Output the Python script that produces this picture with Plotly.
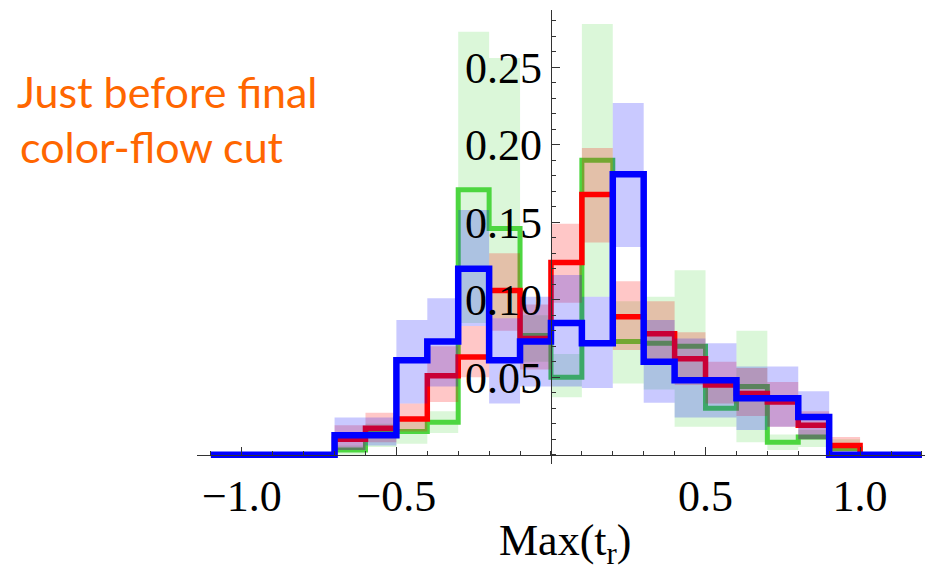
import plotly.graph_objects as go

# Bin edges of the Max(t_r) histograms (width 0.1)
edges = [-1.1, -1.0, -0.9, -0.8, -0.7, -0.6, -0.5, -0.4, -0.3, -0.2, -0.1, 0.0,
         0.1, 0.2, 0.3, 0.4, 0.5, 0.6, 0.7, 0.8, 0.9, 1.0, 1.1, 1.2]

# Normalised bin contents for the three samples
green = [0, 0, 0, 0, 0.003, 0.014, 0.015, 0.021, 0.171, 0.146, 0.077, 0.050,
         0.190, 0.073, 0.072, 0.070, 0.030, 0.044, 0.008, 0.0115, 0.004, 0, 0]
red = [0, 0, 0, 0, 0.010, 0.017, 0.023, 0.051, 0.063, 0.106, 0.075, 0.124,
       0.168, 0.089, 0.078, 0.062, 0.045, 0.0395, 0.034, 0.019, 0.006, 0, 0]
blue = [0, 0, 0, 0, 0.0126, 0.0126, 0.061, 0.073, 0.120, 0.061, 0.073, 0.085,
        0.072, 0.181, 0.060, 0.048, 0.048, 0.0365, 0.0365, 0.0244, 0, 0, 0]

# Uncertainty bands (lower / upper edge per bin, None = no band)
N = None
green_lo = [N, N, N, N, 0.0, 0.005, 0.007, 0.014, 0.085, 0.088, 0.060, 0.037,
            0.102, 0.046, 0.042, 0.018, 0.018, 0.008, 0.003, 0.005, 0.0, N, N]
green_hi = [N, N, N, N, 0.006, 0.020, 0.022, 0.028, 0.273, 0.256, 0.090, 0.065,
            0.278, 0.099, 0.102, 0.119, 0.044, 0.080, 0.013, 0.016, 0.010, N, N]
red_lo = [N, N, N, N, 0.003, 0.008, 0.015, 0.034, 0.050, 0.080, 0.055, 0.098,
          0.137, 0.0675, 0.058, 0.045, 0.033, 0.025, 0.018, 0.010, 0.002, N, N]
red_hi = [N, N, N, N, 0.019, 0.027, 0.033, 0.070, 0.083, 0.130, 0.097, 0.149,
          0.198, 0.112, 0.099, 0.079, 0.060, 0.056, 0.047, 0.028, 0.0115, N, N]
blue_lo = [N, N, N, N, 0.003, 0.006, 0.033, 0.044, 0.083, 0.033, 0.044, 0.044,
           0.043, 0.134, 0.0335, 0.024, 0.024, 0.016, 0.018, 0.010, N, N, N]
blue_hi = [N, N, N, N, 0.024, 0.024, 0.087, 0.101, 0.158, 0.088, 0.102, 0.116,
           0.102, 0.227, 0.087, 0.075, 0.072, 0.057, 0.057, 0.041, N, N, N]

x_ticks = [-1.0, -0.5, 0.5, 1.0]
x_ticktext = ["\u22121.0", "\u22120.5", "0.5", "1.0"]
y_ticks = [0.05, 0.10, 0.15, 0.20, 0.25]
y_ticktext = ["0.05", "0.10", "0.15", "0.20", "0.25"]

X_RANGE = [-1.145, 1.21]
Y_RANGE = [-0.006, 0.287]

series = [
    (green, green_lo, green_hi, "rgb(77,214,64)", "rgba(77,214,64,0.20)", 5.0),
    (red, red_lo, red_hi, "rgb(255,0,0)", "rgba(255,0,0,0.22)", 5.5),
    (blue, blue_lo, blue_hi, "rgb(0,0,255)", "rgba(0,0,255,0.21)", 6.5),
]


def band_path(lo, hi):
    """Closed rectangles (one per bin) separated by gaps for fill='toself'."""
    xs, ys = [], []
    for i, (a, b) in enumerate(zip(lo, hi)):
        if a is None or b is None:
            continue
        x0, x1 = edges[i], edges[i + 1]
        xs += [x0, x1, x1, x0, x0, None]
        ys += [a, a, b, b, a, None]
    return xs, ys


fig = go.Figure()
for vals, lo, hi, lc, fc, lw in series:
    bx, by = band_path(lo, hi)
    fig.add_trace(go.Scatter(x=bx, y=by, mode="lines", fill="toself",
                             fillcolor=fc, line=dict(width=0),
                             hoverinfo="skip", showlegend=False))
    fig.add_trace(go.Scatter(x=edges, y=vals + [vals[-1]], mode="lines",
                             line=dict(color=lc, width=lw, shape="hv"),
                             showlegend=False))

axis_font = dict(family="Liberation Serif", size=44, color="black")
axis_col = "#333333"

fig.update_layout(
    width=936, height=568,
    margin=dict(l=197, r=11, t=10, b=104),
    plot_bgcolor="white", paper_bgcolor="white",
    showlegend=False,
    xaxis=dict(
        range=X_RANGE, showgrid=False, zeroline=False,
        showline=True, linecolor=axis_col, linewidth=1.3,
        anchor="free",
        position=(0 - Y_RANGE[0]) / (Y_RANGE[1] - Y_RANGE[0]),
        tickmode="array", tickvals=x_ticks, ticktext=x_ticktext,
        ticks="inside", ticklen=8, tickwidth=1.2, tickcolor=axis_col,
        minor=dict(dtick=0.1, tick0=0, ticks="inside", ticklen=4,
                   tickwidth=1, tickcolor=axis_col, showgrid=False),
        tickfont=axis_font, ticklabelstandoff=2,
    ),
    yaxis=dict(
        range=Y_RANGE, showgrid=False, zeroline=False,
        showline=True, linecolor=axis_col, linewidth=1.3,
        anchor="free",
        position=(0 - X_RANGE[0]) / (X_RANGE[1] - X_RANGE[0]),
        side="left",
        tickmode="array", tickvals=y_ticks, ticktext=y_ticktext,
        ticks="inside", ticklen=8, tickwidth=1.2, tickcolor=axis_col,
        minor=dict(dtick=0.01, tick0=0, ticks="inside", ticklen=4,
                   tickwidth=1, tickcolor=axis_col, showgrid=False),
        tickfont=axis_font, ticklabelstandoff=0,
    ),
)

# Axis title
fig.add_annotation(text="Max(t<sub>r</sub>)", xref="paper", yref="paper",
                   x=0.505, y=-0.176, xanchor="center", yanchor="middle",
                   showarrow=False,
                   font=dict(family="Liberation Serif", size=44, color="black"))

# Slide caption
caption_font = dict(family="Lato", size=43, color="#FF6600")
fig.add_annotation(text="Just before final", xref="paper", yref="paper",
                   x=-0.250, y=(463.8 - 91) / 453.8, xanchor="left",
                   yanchor="middle", showarrow=False, font=caption_font)
fig.add_annotation(text="color-flow cut", xref="paper", yref="paper",
                   x=-0.246, y=(463.8 - 146) / 453.8, xanchor="left",
                   yanchor="middle", showarrow=False, font=caption_font)

fig.write_html("out.html")
